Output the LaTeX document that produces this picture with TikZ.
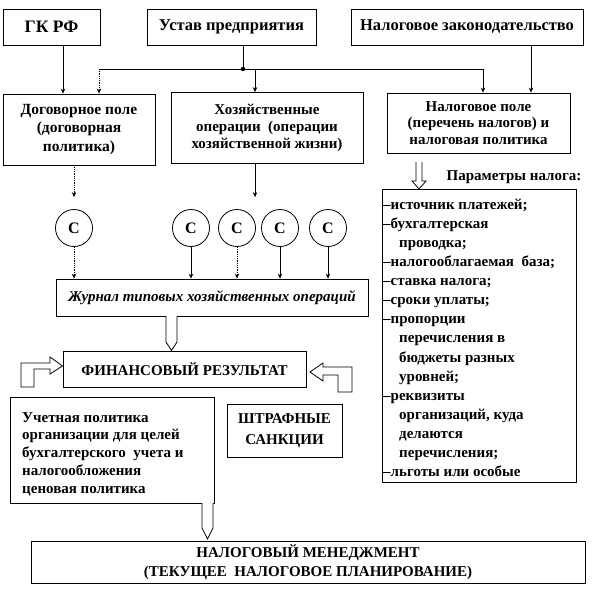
\documentclass[tikz,border=0pt]{standalone}
\usepackage{fontspec}
\setmainfont{Liberation Serif}
\usetikzlibrary{arrows.meta,calc}
\begin{document}
\begin{tikzpicture}[x=1pt,y=-1pt,
  box/.style={draw,line width=0.8pt,rectangle,inner sep=0pt,align=center,font=\bfseries\fontsize{15}{17.5}\selectfont},
  topbox/.style={box,minimum height=36pt,font=\bfseries\fontsize{16.5}{19}\selectfont},
  circ/.style={draw,circle,line width=0.8pt,minimum size=37pt,inner sep=0pt,font=\bfseries\fontsize{16}{18}\selectfont},
  txt/.style={inner sep=0pt,font=\bfseries\fontsize{15}{17.5}\selectfont},
  conn/.style={line width=0.8pt,-{Stealth[length=5pt,width=4.5pt]}},
  dconn/.style={conn,densely dotted},
  plain/.style={line width=0.8pt},
  harrow/.style={draw,line width=0.8pt,fill=white,line join=miter},
]
\useasboundingbox (0,0) rectangle (601,589);

% top row
\node[topbox,minimum width=97pt,font=\bfseries\fontsize{17.5}{20}\selectfont] (gk) at (51.5,27) {ГК РФ};
\node[topbox,minimum width=169pt] (ustav) at (231.5,27) {Устав предприятия};
\node[topbox,minimum width=232pt] (nz) at (467,27) {Налоговое законодательство};

% second row
\node[box,minimum width=152pt,minimum height=71pt,font=\bfseries\fontsize{15.5}{18.5}\selectfont] (dog) at (79,129.5) {Договорное поле\\(договорная\\политика)};
\node[box,minimum width=192pt,minimum height=71pt,font=\bfseries\fontsize{15}{17}\selectfont] (hoz) at (267,128) {Хозяйственные\\операции\ \ (операции\\хозяйственной жизни)};
\node[box,minimum width=183pt,minimum height=60pt,font=\bfseries\fontsize{15}{16.8}\selectfont] (nal) at (478.5,123) {Налоговое поле\\(перечень налогов) и\\налоговая политика};

% top connectors
\coordinate (dot) at (243,69);
\coordinate (hl) at (99,69);
\coordinate (hr) at (483,69);
\coordinate (hz) at (255,69);
\coordinate (g1) at (63,0);
\coordinate (n1) at (531,0);
\draw[plain] (dot |- ustav.south) -- (dot);
\fill (dot) circle (2.2pt);
\draw[plain] (hl) -- (hr);
\draw[dconn] (hl) -- (hl |- dog.north);
\draw[conn] (g1 |- gk.south) -- (g1 |- dog.north);
\draw[conn] (hz) -- (hz |- hoz.north);
\draw[conn] (hr) -- (hr |- nal.north);
\draw[conn] (n1 |- nz.south) -- (n1 |- nal.north);

% circles
\node[circ] (c1) at (74,228) {С};
\node[circ] (c2) at (191,228) {С};
\node[circ] (c3) at (237,228) {С};
\node[circ] (c4) at (280,228) {С};
\node[circ] (c5) at (328,228) {С};

\draw[dconn] (c1 |- dog.south) -- ($(c1.north)+(0,-12)$);
\draw[conn] (hz |- hoz.south) -- ($(hz |- c1.north)+(0,-12)$);

% journal
\node[box,minimum width=312pt,minimum height=37pt,font=\bfseries\itshape\fontsize{15}{17.5}\selectfont] (zhur) at (212,297.5) {Журнал типовых хозяйственных операций};
\draw[dconn] (c1.south) -- (c1.south |- zhur.north);
\draw[conn] (c2.south) -- (c2.south |- zhur.north);
\draw[dconn] (c3.south) -- (c3.south |- zhur.north);
\draw[conn] (c4.south) -- (c4.south |- zhur.north);
\draw[conn] (c5.south) -- (c5.south |- zhur.north);

% financial result
\node[box,minimum width=243pt,minimum height=36pt] (fin) at (184.5,369) {ФИНАНСОВЫЙ РЕЗУЛЬТАТ};
\draw[harrow] (166,316) -- (166,342) -- (171.5,350.5) -- (177,342) -- (177,316);

% bent arrows
\draw[harrow] (21,387) -- (21,363) -- (50,363) -- (50,357) -- (62.5,366) -- (50,374) -- (50,369) -- (34,369) -- (34,387) -- cycle;
\draw[harrow] (310,372) -- (323,363) -- (323,367) -- (352,367) -- (352,392) -- (338,392) -- (338,375) -- (323,375) -- (323,381) -- cycle;

% accounting policy
\node[box,minimum width=204pt,minimum height=106pt] (uch) at (112,450) {};
\foreach \t [count=\i] in {Учетная политика,организации для целей,бухгалтерского\ \ учета и,налогообложения,ценовая политика}
  \node[txt,anchor=base west] (u\i) at (22,{422+(\i-1)*17.75}) {\t};

% penalties
\node[box,minimum width=115pt,minimum height=53pt,font=\bfseries\fontsize{15}{21}\selectfont] (sht) at (284.5,431) {ШТРАФНЫЕ\\САНКЦИИ};

% tax parameters
\node[txt,anchor=base] (ptitle) at (514,180) {Параметры налога:};
\node[box,minimum width=194pt,minimum height=293pt] (par) at (479,335.5) {};
\draw[harrow] (416,162) -- (416,181) -- (412,181) -- (419,189) -- (426,181) -- (422,181) -- (422,162);
\foreach \t/\x [count=\i] in {–источник платежей;/383,–бухгалтерская/383,проводка;/399,–налогооблагаемая\ \ база;/383,–ставка налога;/383,–сроки уплаты;/383,–пропорции/383,перечисления в/399,бюджеты разных/399,уровней;/399,–реквизиты/383,{организаций, куда}/399,делаются/399,перечисления;/399,–льготы или особые/383}
  \node[txt,anchor=base west] (p\i) at (\x,{209+(\i-1)*19.14}) {\t};

% tax management
\node[box,minimum width=554pt,minimum height=42pt,font=\bfseries\fontsize{15}{19}\selectfont] (nm) at (308,562) {НАЛОГОВЫЙ МЕНЕДЖМЕНТ\\(ТЕКУЩЕЕ\ \ НАЛОГОВОЕ ПЛАНИРОВАНИЕ)};
\draw[harrow] (202,503) -- (202,528) -- (207.5,539) -- (213,528) -- (213,503);
\end{tikzpicture}
\end{document}
